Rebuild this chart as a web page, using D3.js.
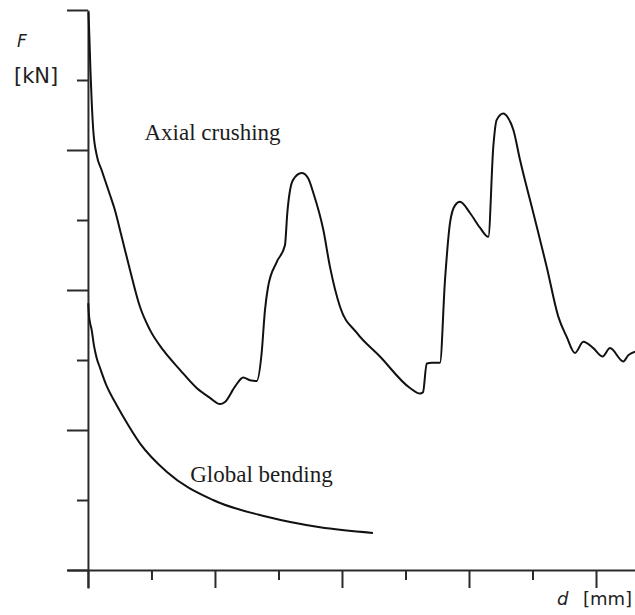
<!DOCTYPE html>
<html>
<head>
<meta charset="utf-8">
<script src="https://cdn.jsdelivr.net/npm/d3@7"></script>
<style>
  body { margin: 0; background: #fff; }
  svg { display: block; }
  .axis path, .axis line { stroke: #2a2a2a; stroke-width: 2; }
  .curve { fill: none; stroke: #111; stroke-width: 2; stroke-linejoin: round; }
  .note { font-family: "Liberation Serif", "Times New Roman", serif; font-size: 23px; fill: #1c1c1c; }
  .unit { font-family: "DejaVu Sans", sans-serif; fill: #222; }
</style>
</head>
<body>
<svg id="chart"></svg>
<script>
// displacement d (minor tick = 10) and force F (tick = 10)
const crushD = [0.08, 0.24, 0.39, 0.58, 0.83, 1.37, 2.16, 3.46, 4.25, 5.31, 6.61, 8.19, 9.76, 11.86,
  14.49, 17.12, 19.21, 20.79, 21.57, 23.15, 24.46, 25.51, 26.57, 27.35, 27.87, 28.35, 29.72, 31.02,
  31.39, 32.28, 33.65, 34.65, 35.48, 37.06, 38.11, 39.69, 42.31, 45.98, 50.71, 52.28, 52.76, 53.34,
  54.17, 55.43, 56.22, 57.01, 57.8, 58.58, 60.16, 61.73, 63.04, 63.83, 64.36, 65.4, 66.14, 66.98,
  68.03, 70.13, 72.24, 74.06, 75.39, 76.69, 78.0, 79.57, 81.05, 82.2, 84.3, 85.09, 86.14];
const crushF = [79.7, 75.7, 71.4, 67.1, 62.9, 59.3, 57.1, 53.6, 51.4, 47.6, 42.9, 37.6, 34.3, 31.4,
  28.6, 26.0, 24.6, 23.7, 24.0, 26.2, 27.5, 27.1, 27.0, 31.0, 37.1, 40.4, 44.0, 46.4,
  51.0, 55.7, 56.7, 56.0, 53.9, 48.6, 43.3, 37.6, 33.9, 30.5, 26.0, 25.2, 25.4, 29.5,
  29.6, 29.6, 41.4, 49.6, 52.1, 52.6, 51.0, 48.9, 47.6, 60.5, 64.3, 65.2, 64.6, 62.9,
  58.6, 51.0, 43.3, 36.2, 33.3, 31.0, 32.6, 31.7, 30.5, 31.7, 29.8, 30.7, 31.2];

const bendD = [0.05, 0.16, 0.31, 0.58, 0.94, 1.37, 1.89, 2.94, 4.25, 5.56, 8.19, 12.44, 19.69, 28.19, 36.54, 44.88];
const bendF = [38.1, 36.4, 35.4, 34.3, 32.1, 30.3, 28.9, 26.3, 24.0, 21.9, 18.1, 14.0, 10.0, 7.6, 6.1, 5.3];

const majorTicks = [0, 20, 40, 60, 80];
const minorTicks = [10, 30, 50, 70];
const xExtent = [-3.3, 86.14];
const yExtent = [-2.57, 80];

const labels = [
  { text: "Axial crushing", d: 8.9, f: 61.4 },
  { text: "Global bending", d: 16.1, f: 12.6 }
];

const width = 635, height = 615;

const svg = d3.select("#chart")
  .attr("width", width)
  .attr("height", height);

const x = d3.scaleLinear().domain(xExtent).range([67, 635]);
const y = d3.scaleLinear().domain(yExtent).range([588, 10]);

// x axis: long ticks on majors, short ones in between
svg.append("g")
  .attr("class", "axis")
  .attr("transform", `translate(0,${y(0)})`)
  .call(d3.axisBottom(x).tickValues(majorTicks).tickSize(18).tickSizeOuter(0).tickFormat(""));
svg.append("g")
  .attr("class", "axis")
  .attr("transform", `translate(0,${y(0)})`)
  .call(d3.axisBottom(x).tickValues(minorTicks).tickSize(10).tickFormat(""))
  .call(g => g.select(".domain").remove());

// y axis
svg.append("g")
  .attr("class", "axis")
  .attr("transform", `translate(${x(0)},0)`)
  .call(d3.axisLeft(y).tickValues(majorTicks).tickSize(21).tickSizeOuter(0).tickFormat(""));
svg.append("g")
  .attr("class", "axis")
  .attr("transform", `translate(${x(0)},0)`)
  .call(d3.axisLeft(y).tickValues(minorTicks).tickSize(11).tickFormat(""))
  .call(g => g.select(".domain").remove());

const line = d3.line()
  .x(d => x(d[0]))
  .y(d => y(d[1]))
  .curve(d3.curveMonotoneX);

svg.append("path")
  .attr("class", "curve")
  .attr("d", line(d3.zip(crushD, crushF)));

svg.append("path")
  .attr("class", "curve")
  .attr("d", line(d3.zip(bendD, bendF)));

svg.selectAll(".note")
  .data(labels)
  .join("text")
  .attr("class", "note")
  .attr("x", d => x(d.d))
  .attr("y", d => y(d.f))
  .text(d => d.text);

// axis titles
svg.append("text")
  .attr("class", "unit")
  .attr("x", 17).attr("y", 47)
  .style("font-size", "17px")
  .style("font-style", "italic")
  .text("F");
svg.append("text")
  .attr("class", "unit")
  .attr("x", 14).attr("y", 83)
  .style("font-size", "21px")
  .text("[kN]");

svg.append("text")
  .attr("class", "unit")
  .attr("x", 557).attr("y", 605)
  .style("font-size", "18px")
  .style("font-style", "italic")
  .text("d");
svg.append("text")
  .attr("class", "unit")
  .attr("x", 583).attr("y", 605)
  .style("font-size", "18px")
  .text("[mm]");
</script>
</body>
</html>
